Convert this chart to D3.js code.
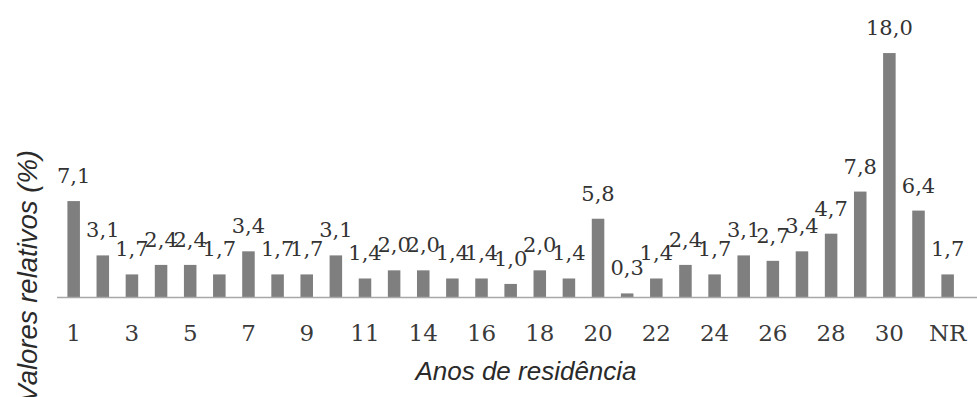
<!DOCTYPE html>
<html>
<head>
<meta charset="utf-8">
<script src="https://cdn.jsdelivr.net/npm/d3@7"></script>
<style>
  html, body { margin: 0; padding: 0; background: #ffffff; }
  svg { display: block; }
</style>
</head>
<body>
<svg id="chart" width="977" height="397"></svg>
<script>
// Years of residence (category labels, in order)
const categories = ["1","2","3","4","5","6","7","8","9","10","11","12",
  "14","15","16","17","18","19","20","21","22","23","24","25","26","27",
  "28","29","30",">30","NR"];
// Relative frequency (%) for each category
const values = [7.1, 3.1, 1.7, 2.4, 2.4, 1.7, 3.4, 1.7, 1.7, 3.1, 1.4, 2.0,
  2.0, 1.4, 1.4, 1.0, 2.0, 1.4, 5.8, 0.3, 1.4, 2.4, 1.7, 3.1, 2.7, 3.4,
  4.7, 7.8, 18.0, 6.4, 1.7];
// Category labels shown under the axis (every other one)
const tickLabels = ["1","3","5","7","9","11","14","16","18","20","22","24",
  "26","28","30","NR"];
const yDomain = [0, 20];

const xTitle = "Anos de residência";
const yTitle = "Valores relativos (%)";

const data = categories.map((c, i) => ({ cat: c, value: values[i] }));

const svg = d3.select("#chart");
const W = 977, H = 397;
const left = 59.1, right = 962.2, baseY = 297.5, topY = 25.9;

const x = d3.scaleBand()
  .domain(categories)
  .range([left, right])
  .paddingInner(0.57)
  .paddingOuter(0.285);

const y = d3.scaleLinear()
  .domain(yDomain)
  .range([baseY, topY]);

const fmt = v => d3.format(".1f")(v).replace(".", ",");

// Bars
svg.append("g")
  .selectAll("rect")
  .data(data)
  .join("rect")
  .attr("x", d => x(d.cat))
  .attr("y", d => y(d.value))
  .attr("width", x.bandwidth())
  .attr("height", d => y(0) - y(d.value))
  .attr("fill", "#7f7f7f");

// Category axis baseline
svg.append("line")
  .attr("x1", 57).attr("x2", W)
  .attr("y1", y(0)).attr("y2", y(0))
  .attr("stroke", "#a8a8a8")
  .attr("stroke-width", 1.6);

// Category tick labels
const axis = d3.axisBottom(x)
  .tickValues(tickLabels)
  .tickSize(0)
  .tickPadding(0);

const gx = svg.append("g")
  .attr("transform", `translate(0,${y(0)})`)
  .call(axis);
gx.select(".domain").remove();
gx.selectAll("text")
  .attr("dy", null)
  .attr("y", 43)
  .attr("font-family", "'DejaVu Serif', serif")
  .attr("font-size", 23)
  .attr("fill", "#3a3a3a");

// Value labels
svg.append("g")
  .selectAll("text")
  .data(data)
  .join("text")
  .attr("x", d => x(d.cat) + x.bandwidth() / 2)
  .attr("y", d => y(d.value) - 18)
  .attr("text-anchor", "middle")
  .attr("font-family", "'DejaVu Serif', serif")
  .attr("font-size", 21)
  .attr("fill", "#333333")
  .text(d => fmt(d.value));

// Axis titles
svg.append("text")
  .attr("x", 526)
  .attr("y", 380)
  .attr("text-anchor", "middle")
  .attr("font-family", "'Liberation Sans', Arial, sans-serif")
  .attr("font-style", "italic")
  .attr("font-size", 26)
  .attr("fill", "#2a2a2a")
  .text(xTitle);

svg.append("text")
  .attr("transform", "translate(37,150) rotate(-90)")
  .attr("text-anchor", "end")
  .attr("font-family", "'Liberation Sans', Arial, sans-serif")
  .attr("font-style", "italic")
  .attr("font-size", 27.5)
  .attr("fill", "#2a2a2a")
  .text(yTitle);
</script>
</body>
</html>
